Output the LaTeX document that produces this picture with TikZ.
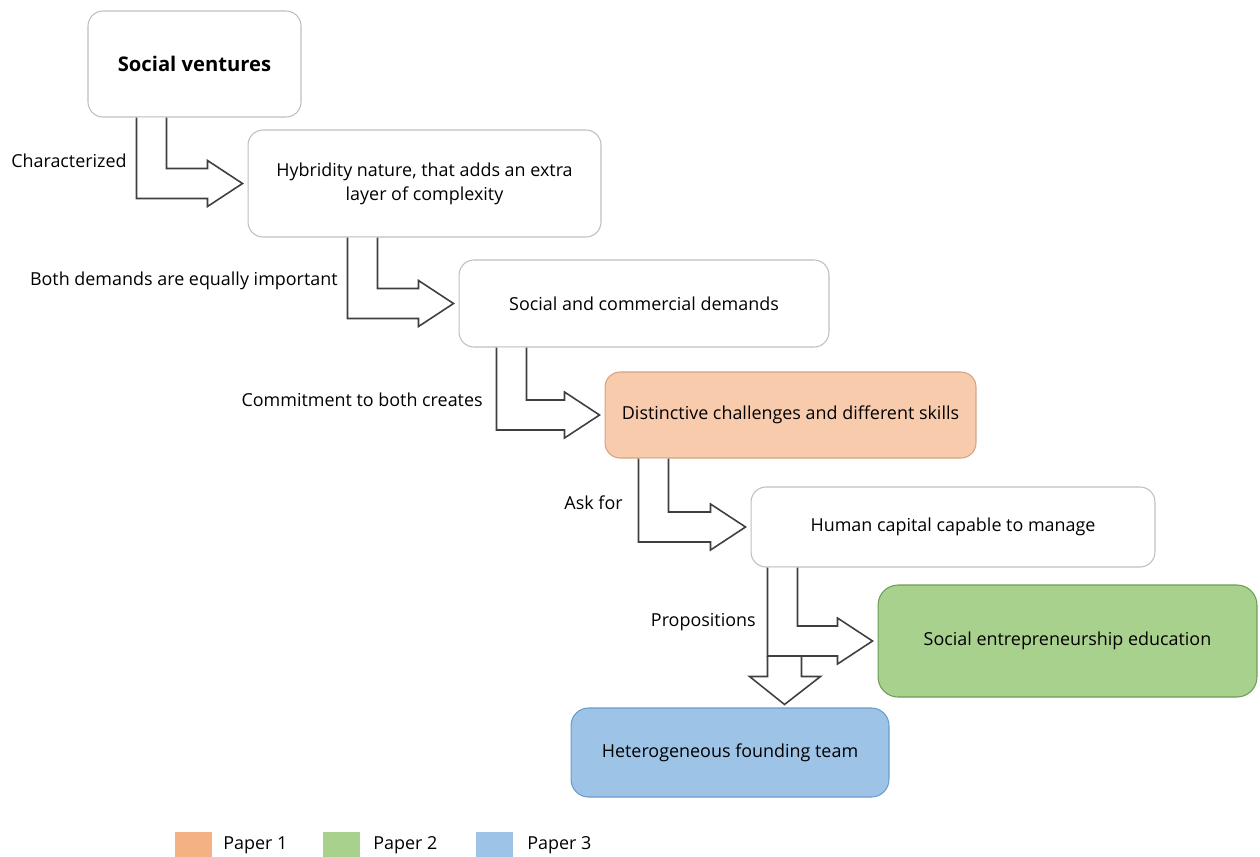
\documentclass[tikz,border=0pt]{standalone}
\usepackage{fontspec}
\setmainfont{Open Sans}
\usetikzlibrary{calc}

\definecolor{boxline}{HTML}{BFBFBF}
\definecolor{arrowline}{HTML}{3F3F3F}
\definecolor{peach}{HTML}{F8CBAD}
\definecolor{peachline}{HTML}{D0A584}
\definecolor{leaf}{HTML}{A9D18E}
\definecolor{leafline}{HTML}{6E9D55}
\definecolor{sky}{HTML}{9DC3E6}
\definecolor{skyline}{HTML}{6C9BCB}
\definecolor{keyone}{HTML}{F4B183}

% #1 from node, #2 to node, #3 shaft offset from left side of #1
\newcommand{\bentarrow}[3]{%
  \draw[block arrow] ($(#1.south west)+(#3,0)$)
    -- ($(#1.south west |- #2.west)+(#3,15)$)
    -- ($(#2.west)+(-40,15)$) -- ($(#2.west)+(-40,23)$)
    -- ($(#2.west)+(-5,0)$)
    -- ($(#2.west)+(-40,-23)$) -- ($(#2.west)+(-40,-15)$)
    -- ($(#1.south west |- #2.west)+(#3+30,-15)$)
    -- ($(#1.south west)+(#3+30,0)$);}

\begin{document}
\begin{tikzpicture}[x=0.02cm, y=-0.02cm,
    main node/.style={rectangle,rounded corners=0.3cm,draw=boxline,line width=0.6pt,
                      fill=white,align=center,inner sep=0pt,font=\fontsize{10.2}{13.5}\selectfont},
    block arrow/.style={draw=arrowline,line width=0.9pt,fill=white,line join=miter},
    side label/.style={anchor=east,inner sep=0pt,font=\fontsize{10.2}{13.5}\selectfont},
    key box/.style={minimum width=0.74cm,minimum height=0.52cm,inner sep=0pt},
    key label/.style={anchor=west,inner sep=0pt,font=\fontsize{10.2}{13.5}\selectfont}]

  \useasboundingbox (0,0) rectangle (1260,856);

  \node[main node,minimum width=4.26cm,minimum height=2.12cm,
        font=\fontsize{11.5}{14}\selectfont\bfseries] (sv) at (194.5,64) {Social ventures};
  \node[main node,minimum width=7.06cm,minimum height=2.14cm] (hy) at (424.5,183.5)
        {Hybridity nature, that adds an extra\\layer of complexity};
  \node[main node,minimum width=7.4cm,minimum height=1.74cm] (sc) at (644,303.5)
        {Social and commercial demands};
  \node[main node,minimum width=7.42cm,minimum height=1.72cm,fill=peach,draw=peachline] (dc) at (790.5,415)
        {Distinctive challenges and different skills};
  \node[main node,minimum width=8.08cm,minimum height=1.6cm] (hc) at (953,527)
        {Human capital capable to manage};
  \node[main node,minimum width=7.58cm,minimum height=2.24cm,rounded corners=0.4cm,
        fill=leaf,draw=leafline] (se) at (1067.5,641) {Social entrepreneurship education};
  \node[main node,minimum width=6.36cm,minimum height=1.78cm,rounded corners=0.35cm,
        fill=sky,draw=skyline] (ht) at (730,752.5) {Heterogeneous founding team};

  \node[side label] (l1) at (127,161) {Characterized};
  \node[side label] (l2) at (338,281) {Both demands are equally important};
  \node[side label] (l3) at (483,400) {Commitment to both creates};
  \node[side label] (l4) at (623,503) {Ask for};
  \node[side label] (l5) at (756,622) {Propositions};

  % down arrow first, the bent one lies over its top
  \draw[block arrow] ($(hc.south west |- se.west)+(17,15)$)
    -- ($(hc.south west |- ht.north)+(17,-31)$) -- ($(hc.south west |- ht.north)+(-1,-31)$)
    -- ($(hc.south west |- ht.north)+(34,-3)$)
    -- ($(hc.south west |- ht.north)+(70,-31)$) -- ($(hc.south west |- ht.north)+(51,-31)$)
    -- ($(hc.south west |- se.west)+(51,15)$);

  \bentarrow{sv}{hy}{49}
  \bentarrow{hy}{sc}{100}
  \bentarrow{sc}{dc}{38}
  \bentarrow{dc}{hc}{34}
  \bentarrow{hc}{se}{17}

  % legend
  \node[key box,fill=keyone] (k1) at (193.5,845) {};
  \node[key label] (p1) at (223,845) {Paper 1};
  \node[key box,fill=leaf] (k2) at (341.5,845) {};
  \node[key label] (p2) at (373,845) {Paper 2};
  \node[key box,fill=sky] (k3) at (494.5,845) {};
  \node[key label] (p3) at (527,845) {Paper 3};

\end{tikzpicture}
\end{document}
